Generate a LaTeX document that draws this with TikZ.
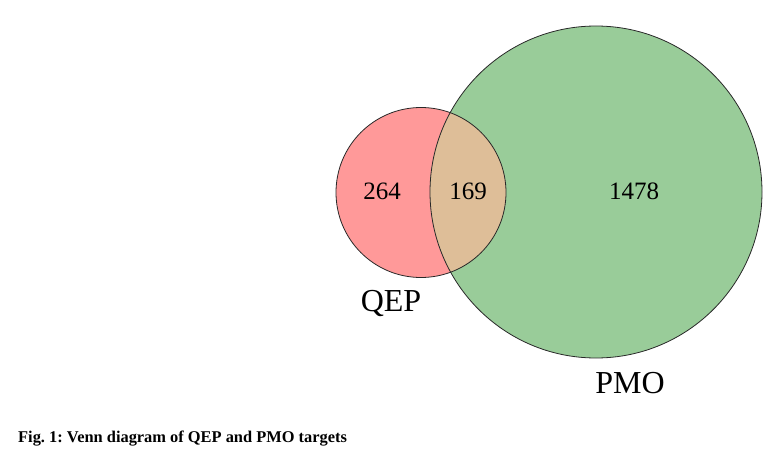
\documentclass[tikz,border=0pt]{standalone}
\usepackage{fontspec}
\setmainfont{Liberation Serif}
\frenchspacing
\begin{document}
\begin{tikzpicture}[x=1pt,y=1pt,
  qepfill/.style={fill={rgb,255:red,255;green,153;blue,153}},
  pmofill/.style={fill={rgb,255:red,153;green,204;blue,153}},
  overlapfill/.style={fill={rgb,255:red,222;green,190;blue,152}},
  outline/.style={draw={rgb,255:red,40;green,40;blue,40},line width=0.8pt},
  count/.style={font=\fontsize{25}{28}\selectfont,inner sep=0pt},
  setlabel/.style={font=\fontsize{32}{36}\selectfont,inner sep=0pt},
  caption/.style={font=\fontsize{16.4}{19}\selectfont\bfseries,inner sep=0pt,anchor=west}]
\useasboundingbox (0,0) rectangle (766,-460);
\coordinate (cq) at (421,-192.5);
\coordinate (cp) at (596,-192);
\fill[qepfill] (cq) circle (85pt);
\fill[pmofill] (cp) circle (166pt);
\begin{scope}
  \clip (cq) circle (85pt);
  \fill[overlapfill] (cp) circle (166pt);
\end{scope}
\draw[outline] (cq) circle (85pt);
\draw[outline] (cp) circle (166pt);
\node[count] (n264) at (382,-191) {264};
\node[count] (n169) at (468,-191) {169};
\node[count] (n1478) at (634,-191) {1478};
\node[setlabel] (lqep) at (391,-303) {QEP};
\node[setlabel] (lpmo) at (630,-383.5) {PMO};
\node[caption] (cap) at (18,-439) {Fig. 1: Venn diagram of QEP and PMO targets};
\end{tikzpicture}
\end{document}
